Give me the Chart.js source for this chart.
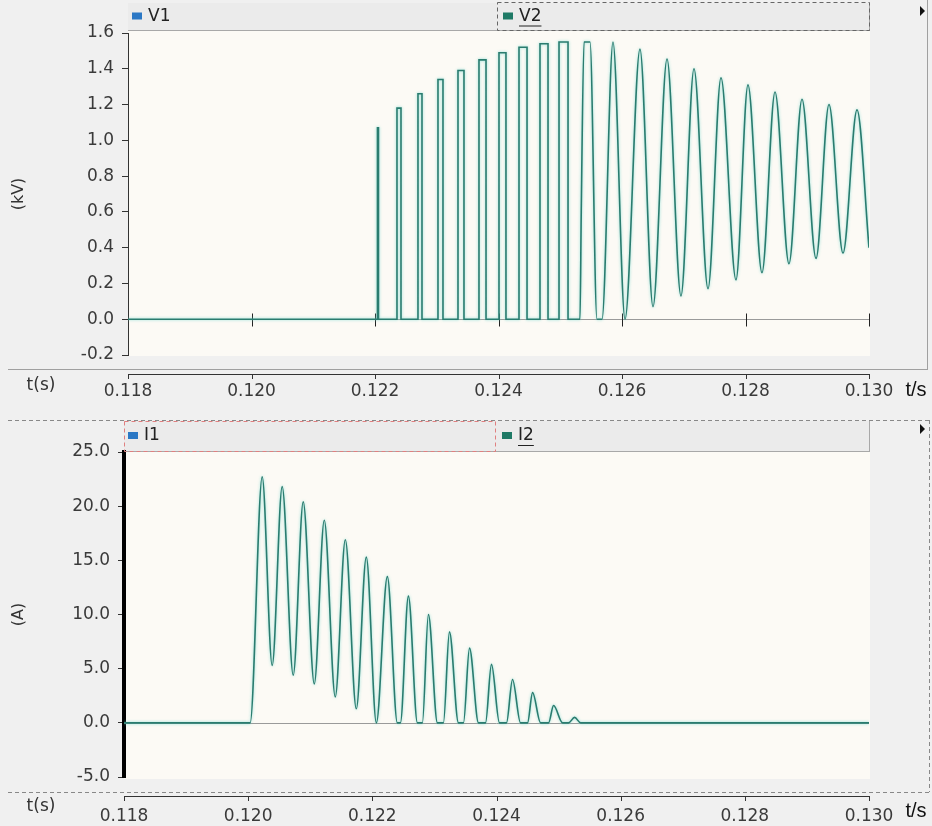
<!DOCTYPE html>
<html>
<head>
<meta charset="utf-8">
<script src="https://cdn.jsdelivr.net/npm/chart.js@4.4.0/dist/chart.umd.min.js"></script>
<style>
  html, body { margin: 0; padding: 0; background: #f0f0f0; }
  #wrap { position: relative; width: 932px; height: 826px; overflow: hidden; }
  .panel { position: absolute; left: 0; width: 932px; }
  #topPanel { top: 0; height: 405px; }
  #botPanel { top: 405px; height: 421px; }
</style>
</head>
<body>
<div id="wrap">
  <div class="panel" id="topPanel"><canvas id="voltChart" width="932" height="405"></canvas></div>
  <div class="panel" id="botPanel"><canvas id="currChart" width="932" height="421"></canvas></div>
</div>
<script>
// axis ticks
const timeTicks = [0.118, 0.120, 0.122, 0.124, 0.126, 0.128, 0.130];
const voltTicks = [-0.2, 0.0, 0.2, 0.4, 0.6, 0.8, 1.0, 1.2, 1.4, 1.6];
const currTicks = [-5, 0, 5, 10, 15, 20, 25];

// series names
const voltNames = ["V1", "V2"];
const currNames = ["I1", "I2"];

// V2 trace (kV)
const v2Time = [
  0.118000,
  0.122040, 0.122040, 0.122056, 0.122056,
  0.122356, 0.122356, 0.122421, 0.122421,
  0.122696, 0.122696, 0.122761, 0.122761,
  0.123020, 0.123020, 0.123101, 0.123101,
  0.123344, 0.123344, 0.123441, 0.123441,
  0.123684, 0.123684, 0.123798, 0.123798,
  0.124008, 0.124008, 0.124121, 0.124121,
  0.124332, 0.124332, 0.124462, 0.124462,
  0.124672, 0.124672, 0.124802, 0.124802,
  0.124980, 0.124980, 0.125126, 0.125126,
  0.125320, 0.125340, 0.125385, 0.125482, 0.125595,
  0.125676, 0.125854, 0.126049, 0.126291, 0.126502,
  0.126729, 0.126955, 0.127166, 0.127393, 0.127603,
  0.127846, 0.128040, 0.128267, 0.128478, 0.128704,
  0.128915, 0.129142, 0.129352, 0.129579, 0.129806, 0.130000
];
const v2Volt = [
  0.00,
  0.00, 1.07, 1.07, 0.00,
  0.00, 1.18, 1.18, 0.00,
  0.00, 1.26, 1.26, 0.00,
  0.00, 1.34, 1.34, 0.00,
  0.00, 1.39, 1.39, 0.00,
  0.00, 1.45, 1.45, 0.00,
  0.00, 1.49, 1.49, 0.00,
  0.00, 1.52, 1.52, 0.00,
  0.00, 1.54, 1.54, 0.00,
  0.00, 1.55, 1.55, 0.00,
  0.00, 0.60, 1.55, 1.55, 0.00,
  0.00, 1.55, 0.00, 1.51, 0.07,
  1.455, 0.13, 1.40, 0.17, 1.35,
  0.22, 1.31, 0.26, 1.27, 0.31,
  1.23, 0.34, 1.20, 0.37, 1.17, 0.40
];

// I2 trace (A)
const i2Time = [
  0.118000, 0.120032, 0.120226, 0.120387, 0.120548, 0.120726, 0.120887,
  0.121065, 0.121226, 0.121403, 0.121565, 0.121742, 0.121903, 0.122065,
  0.122242, 0.122403, 0.122452, 0.122581, 0.122726, 0.122806, 0.122903,
  0.123048, 0.123145, 0.123242, 0.123387, 0.123468, 0.123565, 0.123710,
  0.123823, 0.123919, 0.124048, 0.124161, 0.124258, 0.124387, 0.124500,
  0.124581, 0.124710, 0.124839, 0.124919, 0.125065, 0.125161, 0.125258,
  0.125355, 0.130000
];
const i2Amp = [
  0.0, 0.0, 22.7, 5.3, 21.8, 4.4, 20.4,
  3.6, 18.7, 2.4, 16.9, 1.3, 15.3, 0.0,
  13.5, 0.0, 0.0, 11.7, 0.0, 0.0, 10.0,
  0.0, 0.0, 8.4, 0.0, 0.0, 6.9, 0.0,
  0.0, 5.4, 0.0, 0.0, 4.0, 0.0, 0.0,
  2.8, 0.0, 0.0, 1.6, 0.0, 0.0, 0.5,
  0.0, 0.0
];

const toPoints = (xs, ys) => xs.map((x, i) => ({ x: x, y: ys[i] }));

const FONT = "'DejaVu Sans', Verdana, sans-serif";
const TRACE = "#2a7c6f";
const legendColors = ["#2b78c5", "#1f7a66"];

// panel decoration: background, legend strip, time axis
function panelDecor(g) {
  return {
    id: "panelDecor",
    beforeDraw(chart) {
      const ctx = chart.ctx;
      const a = chart.chartArea;
      ctx.save();
      ctx.fillStyle = "#f0f0f0";
      ctx.fillRect(0, 0, chart.width, chart.height);
      // plot background
      ctx.fillStyle = "#fcfaf5";
      ctx.fillRect(a.left, g.legendBottom, a.right - a.left + 1, g.bgBottom - g.legendBottom);
      // legend strip
      ctx.fillStyle = "#ebebeb";
      ctx.fillRect(a.left, g.legendTop, a.right - a.left + 1, g.legendBottom - g.legendTop);
      ctx.strokeStyle = "#a8a8a8";
      ctx.lineWidth = 1;
      ctx.beginPath();
      ctx.moveTo(a.left, g.legendBottom + 0.5);
      ctx.lineTo(a.right + 1, g.legendBottom + 0.5);
      ctx.moveTo(a.right + 0.5, g.legendTop);
      ctx.lineTo(a.right + 0.5, g.legendBottom);
      ctx.stroke();
      // panel frame
      ctx.strokeStyle = g.frameColor;
      ctx.setLineDash(g.frameDash);
      ctx.beginPath();
      if (g.frameTop !== null) {
        ctx.moveTo(8, g.frameTop + 0.5);
        ctx.lineTo(chart.width, g.frameTop + 0.5);
      }
      ctx.moveTo(g.frameRight + 0.5, g.frameTop === null ? 0 : g.frameTop);
      ctx.lineTo(g.frameRight + 0.5, g.frameBottom);
      ctx.moveTo(8, g.frameBottom + 0.5);
      ctx.lineTo(g.frameRight + 1, g.frameBottom + 0.5);
      ctx.stroke();
      ctx.setLineDash([]);
      ctx.restore();
    },
    beforeDatasetsDraw(chart) {
      const ctx = chart.ctx;
      const a = chart.chartArea;
      const xs = chart.scales.x, ys = chart.scales.y;
      const y0 = Math.round(ys.getPixelForValue(0)) + 0.5;
      ctx.save();
      ctx.strokeStyle = "#9a9a9a";
      ctx.lineWidth = 1;
      ctx.beginPath();
      ctx.moveTo(a.left, y0);
      ctx.lineTo(a.right, y0);
      ctx.stroke();
      if (g.zeroTicks) {
        ctx.strokeStyle = "#222";
        ctx.beginPath();
        timeTicks.slice(1).forEach(t => {
          const px = Math.round(xs.getPixelForValue(t)) + 0.5;
          ctx.moveTo(px, y0 - 6);
          ctx.lineTo(px, y0 + 7);
        });
        ctx.stroke();
      }
      ctx.restore();
    },
    beforeDatasetDraw(chart) {
      // pale cyan halo round the trace
      chart.ctx.save();
      chart.ctx.shadowColor = "rgba(110, 215, 205, 0.8)";
      chart.ctx.shadowBlur = 3;
    },
    afterDatasetDraw(chart) {
      chart.ctx.restore();
    },
    afterDraw(chart) {
      const ctx = chart.ctx;
      const xs = chart.scales.x;
      ctx.save();
      // legend entries
      chart.data.datasets.forEach((ds, i) => {
        const lx = g.legendX[i];
        const cy = (g.legendTop + g.legendBottom) / 2;
        ctx.fillStyle = legendColors[i];
        ctx.fillRect(lx, cy - 4, 10, 7);
        ctx.fillStyle = "#222";
        ctx.font = "17px " + FONT;
        ctx.textBaseline = "middle";
        ctx.textAlign = "left";
        ctx.fillText(ds.label, lx + 16, cy);
        if (i === 1) {
          const w = ctx.measureText(ds.label).width;
          ctx.fillRect(lx + 16, cy + 9, w, 1);
        }
      });
      // dashed selection box around a legend entry
      ctx.strokeStyle = g.selColor;
      ctx.lineWidth = 1;
      ctx.setLineDash([4, 3]);
      ctx.strokeRect(g.selBox[0] + 0.5, g.selBox[1] + 0.5, g.selBox[2] - g.selBox[0], g.selBox[3] - g.selBox[1]);
      ctx.setLineDash([]);
      // small arrow at the right
      ctx.fillStyle = "#111";
      ctx.beginPath();
      ctx.moveTo(920, g.legendTop + 3);
      ctx.lineTo(925, g.legendTop + 8);
      ctx.lineTo(920, g.legendTop + 13);
      ctx.closePath();
      ctx.fill();
      // time axis line and ticks
      ctx.strokeStyle = "#333";
      ctx.beginPath();
      ctx.moveTo(xs.getPixelForValue(timeTicks[0]), g.axisY + 0.5);
      ctx.lineTo(xs.getPixelForValue(timeTicks[timeTicks.length - 1]) + 1, g.axisY + 0.5);
      timeTicks.forEach(t => {
        const px = Math.round(xs.getPixelForValue(t)) + 0.5;
        ctx.moveTo(px, g.axisY);
        ctx.lineTo(px, g.axisY + 5);
      });
      ctx.stroke();
      // axis captions
      ctx.fillStyle = "#333";
      ctx.font = "17px " + FONT;
      ctx.textAlign = "center";
      ctx.textBaseline = "middle";
      ctx.fillText("t(s)", 41, g.tsY);
      ctx.fillStyle = "#111";
      ctx.font = "20px 'Liberation Sans', Arial, sans-serif";
      ctx.fillText("t/s", 916, g.tsY + 4);
      ctx.restore();
    }
  };
}

function axisOptions(opts) {
  return {
    x: {
      type: "linear",
      min: timeTicks[0],
      max: timeTicks[timeTicks.length - 1],
      afterBuildTicks: s => { s.ticks = timeTicks.map(v => ({ value: v })); },
      afterFit: s => { s.height = opts.xHeight; },
      grid: { display: false, drawTicks: false },
      border: { display: false },
      ticks: {
        padding: opts.xPad,
        maxRotation: 0,
        color: "#3a3a3a",
        font: { family: FONT, size: 17 },
        callback: v => v.toFixed(3)
      }
    },
    y: {
      min: opts.yTicks[0],
      max: opts.yTicks[opts.yTicks.length - 1],
      afterBuildTicks: s => { s.ticks = opts.yTicks.map(v => ({ value: v })); },
      afterFit: s => { s.width = opts.yWidth; },
      grid: { drawOnChartArea: false, drawTicks: true, tickLength: 6, color: "#333" },
      border: { display: true, color: opts.borderColor, width: opts.borderWidth },
      title: {
        display: true,
        text: opts.title,
        color: "#333",
        font: { family: FONT, size: 16 },
        padding: { top: 9, bottom: 0 }
      },
      ticks: {
        padding: 8,
        color: "#3a3a3a",
        font: { family: FONT, size: 17 },
        callback: opts.fmt
      }
    }
  };
}

const lineStyle = {
  borderColor: TRACE,
  backgroundColor: TRACE,
  borderWidth: 1.6,
  pointRadius: 0,
  cubicInterpolationMode: "monotone",
  fill: false
};

new Chart(document.getElementById("voltChart"), {
  type: "line",
  data: {
    datasets: [
      Object.assign({ label: voltNames[0], data: [] }, lineStyle, { borderColor: legendColors[0] }),
      Object.assign({ label: voltNames[1], data: toPoints(v2Time, v2Volt) }, lineStyle)
    ]
  },
  options: {
    responsive: false,
    animation: false,
    layout: { padding: { top: 33, right: 63, left: 0, bottom: 0 } },
    plugins: { legend: { display: false }, tooltip: { enabled: false } },
    scales: axisOptions({
      xHeight: 50, xPad: 26, yWidth: 128, yTicks: voltTicks,
      title: "(kV)", borderColor: "#333", borderWidth: 1,
      fmt: v => v.toFixed(1)
    })
  },
  plugins: [panelDecor({
    legendTop: 3, legendBottom: 30, bgBottom: 356,
    legendX: [132, 503], selBox: [497, 2, 869, 30], selColor: "#666",
    frameTop: null, frameRight: 927, frameBottom: 369, frameColor: "#a0a0a0", frameDash: [],
    axisY: 374, tsY: 386, zeroTicks: true
  })]
});

new Chart(document.getElementById("currChart"), {
  type: "line",
  data: {
    datasets: [
      Object.assign({ label: currNames[0], data: [] }, lineStyle, { borderColor: legendColors[0] }),
      Object.assign({ label: currNames[1], data: toPoints(i2Time, i2Amp) }, lineStyle)
    ]
  },
  options: {
    responsive: false,
    animation: false,
    layout: { padding: { top: 47, right: 63, left: 0, bottom: 0 } },
    plugins: { legend: { display: false }, tooltip: { enabled: false } },
    scales: axisOptions({
      xHeight: 49, xPad: 29, yWidth: 124, yTicks: currTicks,
      title: "(A)", borderColor: "#000", borderWidth: 4,
      fmt: v => v.toFixed(1)
    })
  },
  plugins: [panelDecor({
    legendTop: 16, legendBottom: 46, bgBottom: 374,
    legendX: [128, 502], selBox: [124, 16, 495, 46], selColor: "#e08080",
    frameTop: 15, frameRight: 929, frameBottom: 387, frameColor: "#888", frameDash: [4, 3],
    axisY: 391, tsY: 402, zeroTicks: false
  })]
});
</script>
</body>
</html>
